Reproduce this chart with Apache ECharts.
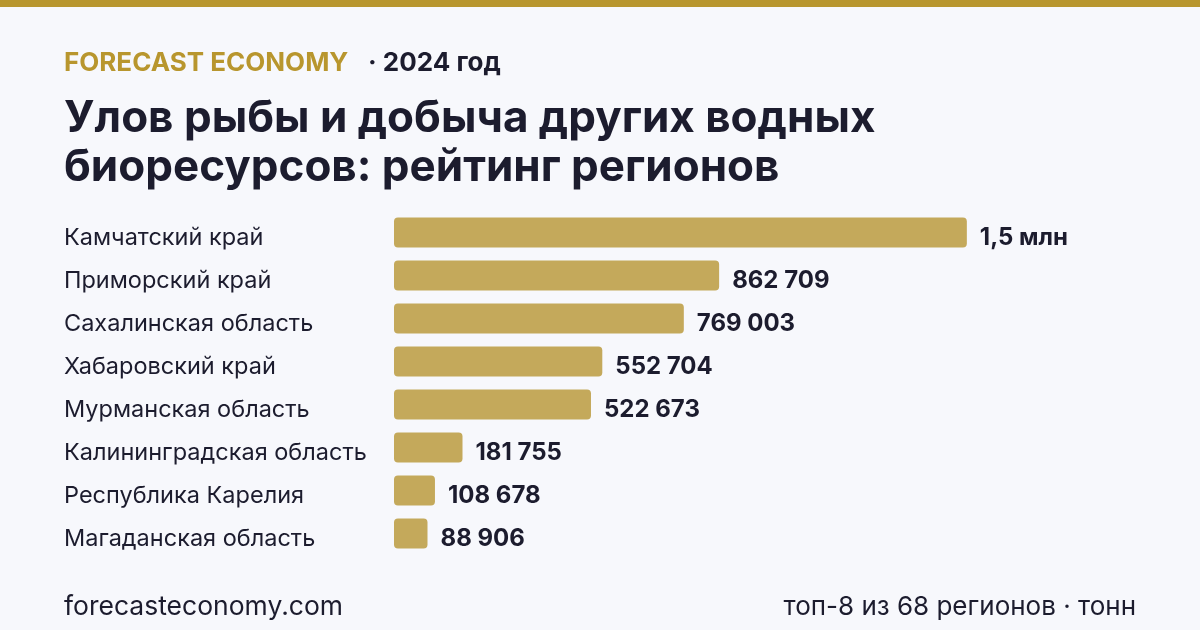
<!DOCTYPE html>
<html>
<head>
<meta charset="utf-8">
<script src="https://cdn.jsdelivr.net/npm/echarts@6/dist/echarts.min.js"></script>
<style>
  html, body { margin: 0; padding: 0; background: #f7f8fc; }
  #chart { width: 1200px; height: 630px; }
</style>
</head>
<body>
<div id="chart"></div>
<script>
var regions = [
  "Камчатский край",
  "Приморский край",
  "Сахалинская область",
  "Хабаровский край",
  "Мурманская область",
  "Калининградская область",
  "Республика Карелия",
  "Магаданская область"
];
var catch2024 = [1520000, 862709, 769003, 552704, 522673, 181755, 108678, 88906];

var gold = "#b8962e";
var barGold = "#c4a95b";
var ink = "#1c1c2e";
var font = "Inter";

function fmt(v) {
  if (v >= 1000000) {
    return (Math.round(v / 100000) / 10).toString().replace(".", ",") + " млн";
  }
  return String(v).replace(/\B(?=(\d{3})+(?!\d))/g, " ");
}

var chart = echarts.init(document.getElementById("chart"));
var option = {
  backgroundColor: "#f7f8fc",
  animation: false,
  title: [
    {
      text: "FORECAST ECONOMY",
      left: 64,
      top: 50,
      padding: 0,
      textStyle: { fontFamily: font, fontSize: 26, fontWeight: "bold", color: gold }
    },
    {
      text: "· 2024 год",
      left: 368,
      top: 50,
      padding: 0,
      textStyle: { fontFamily: font, fontSize: 26, fontWeight: "bold", color: ink }
    },
    {
      text: "Улов рыбы и добыча других водных\nбиоресурсов: рейтинг регионов",
      left: 64,
      top: 94,
      padding: 0,
      textStyle: { fontFamily: font, fontSize: 44, fontWeight: "bold", color: ink, lineHeight: 49 }
    },
    {
      text: "forecasteconomy.com",
      left: 64,
      top: 594,
      padding: 0,
      textStyle: { fontFamily: font, fontSize: 26.5, fontWeight: "normal", color: ink }
    },
    {
      text: "топ-8 из 68 регионов · тонн",
      right: 64,
      top: 594,
      padding: 0,
      textStyle: { fontFamily: font, fontSize: 26, fontWeight: "normal", color: ink }
    }
  ],
  graphic: [
    { type: "rect", left: 0, top: 0, shape: { width: 1200, height: 7 }, style: { fill: gold } }
  ],
  grid: { left: 394, right: 203, top: 211, height: 344, containLabel: false },
  xAxis: {
    type: "value",
    min: 0,
    max: 1600000,
    show: false
  },
  yAxis: {
    type: "category",
    data: regions,
    inverse: true,
    axisLine: { show: false },
    axisTick: { show: false },
    splitLine: { show: false },
    axisLabel: {
      align: "left",
      verticalAlign: "top",
      lineHeight: 10,
      margin: 330,
      fontFamily: font,
      fontSize: 23.5,
      color: ink
    }
  },
  series: [
    {
      type: "bar",
      data: catch2024,
      barWidth: 30,
      itemStyle: { color: barGold, borderRadius: 4 },
      label: {
        show: true,
        position: "right",
        distance: 13,
        offset: [0, 5],
        fontFamily: font,
        fontSize: 24,
        fontWeight: "bold",
        color: ink,
        formatter: function (p) { return fmt(p.value); }
      }
    }
  ]
};
chart.setOption(option);
</script>
</body>
</html>
